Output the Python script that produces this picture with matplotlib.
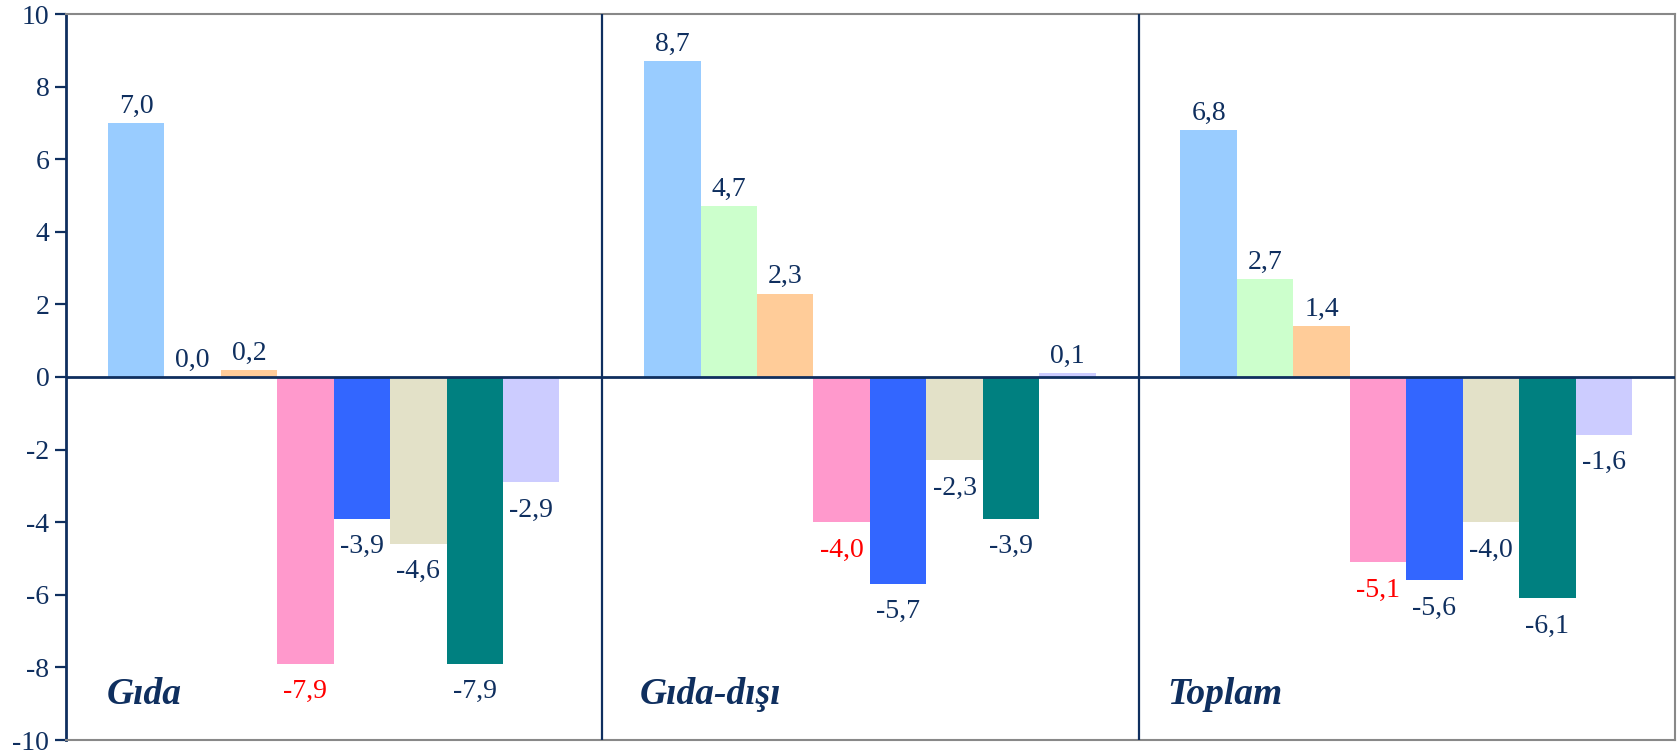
import matplotlib
matplotlib.use("Agg")
import matplotlib.pyplot as plt

groups = ["Gıda", "Gıda-dışı", "Toplam"]
gida = [7.0, 0.0, 0.2, -7.9, -3.9, -4.6, -7.9, -2.9]
gida_disi = [8.7, 4.7, 2.3, -4.0, -5.7, -2.3, -3.9, 0.1]
toplam = [6.8, 2.7, 1.4, -5.1, -5.6, -4.0, -6.1, -1.6]
series_colors = ["#99CCFF", "#CCFFCC", "#FFCC99", "#FF99CC", "#3366FF", "#E3E1C8", "#008080", "#CCCCFF"]
label_colors = ["navy_", "navy_", "navy_", "red", "navy_", "navy_", "navy_", "navy_"]
yticks = [-10, -8, -6, -4, -2, 0, 2, 4, 6, 8, 10]

NAVY = "#0f2f5f"
data = [gida, gida_disi, toplam]
plt.rcParams["font.family"] = ["Liberation Serif", "DejaVu Serif"]

fig = plt.figure(figsize=(16.78, 7.54), dpi=100)
ax = fig.add_axes([66/1678, 14/754, (1675-66)/1678, (740-14)/754])

G = 9.5
pad = 0.74
for g, vals in enumerate(data):
    xs = [g*G + pad + k + 0.5 for k in range(len(vals))]
    ax.bar(xs, vals, width=1.0, color=series_colors, zorder=2)
    for k, (x, v) in enumerate(zip(xs, vals)):
        c = "#FF0000" if label_colors[k] == "red" else NAVY
        if v >= 0:
            ax.annotate(f"{v:.1f}".replace(".", ","), (x, v), xytext=(0, 3), textcoords="offset points",
                        ha="center", va="bottom", fontsize=20, color=c)
        else:
            ax.annotate(f"{v:.1f}".replace(".", ","), (x, v), xytext=(0, -11), textcoords="offset points",
                        ha="center", va="top", fontsize=20, color=c)

label_x = [0.72, G + 0.67, 2*G + 0.5]
for name, lx in zip(groups, label_x):
    ax.text(lx, -8.75, name, fontsize=27, fontweight="bold", fontstyle="italic", color=NAVY,
            ha="left", va="center")

for g in range(1, len(data)):
    ax.axvline(g*G, color=NAVY, lw=1.6, zorder=3)
ax.axhline(0, color=NAVY, lw=2, zorder=3)

ax.set_xlim(0, G*len(data))
ax.set_ylim(-10, 10)
ax.set_yticks(yticks)
ax.set_yticklabels([str(t) for t in yticks])
ax.set_xticks([])
ax.tick_params(axis="y", direction="out", length=8, width=1.6, color=NAVY, labelcolor=NAVY, labelsize=20, pad=4)
for s in ["top", "right", "bottom"]:
    ax.spines[s].set_color("#888888")
    ax.spines[s].set_linewidth(1.5)
ax.spines["left"].set_color(NAVY)
ax.spines["left"].set_linewidth(2)

fig.savefig("out.png", dpi=100)
